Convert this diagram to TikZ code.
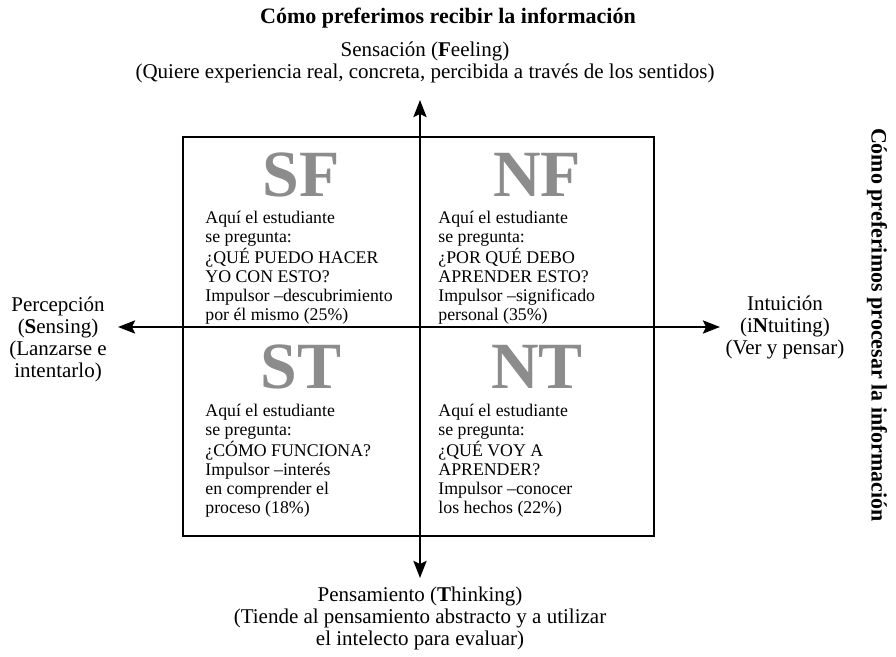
\documentclass[tikz,border=0pt]{standalone}
\usepackage{fontspec}
\setmainfont{Liberation Serif}
\usetikzlibrary{arrows.meta, positioning}
\definecolor{lettergray}{RGB}{140,140,140}

\begin{document}
\begin{tikzpicture}[
    x=0.5pt, y=-0.5pt,
    axis/.style={{Stealth[length=8.5pt,width=6.5pt,inset=1.5pt]}-{Stealth[length=8.5pt,width=6.5pt,inset=1.5pt]}, line width=1.3pt},
    letters/.style={font=\fontsize{33}{33}\selectfont\bfseries, text=lettergray, inner sep=0pt, anchor=base},
    quad/.style={font=\fontsize{8.9}{9.5}\selectfont, align=left, inner sep=0pt, anchor=north west},
    axislabel/.style={font=\fontsize{10.5}{11}\selectfont, align=center, inner sep=0pt},
    heading/.style={font=\fontsize{11}{12}\selectfont\bfseries, inner sep=0pt}
]
    \useasboundingbox (0,0) rectangle (896,657);

    % titles
    \node[heading] (recibir) at (448,18) {Cómo preferimos recibir la información};
    \node[heading, rotate=-90] (procesar) at (877,325) {Cómo preferimos procesar la información};

    % axis labels
    \node[axislabel] (feeling) at (425,62)
        {Sensación (\textbf{F}eeling)\\(Quiere experiencia real, concreta, percibida a través de los sentidos)};
    \node[axislabel] (thinking) at (420,618)
        {Pensamiento (\textbf{T}hinking)\\(Tiende al pensamiento abstracto y a utilizar\\el intelecto para evaluar)};
    \node[axislabel] (sensing) at (58,339)
        {Percepción\\(\textbf{S}ensing)\\(Lanzarse e\\intentarlo)};
    \node[axislabel] (intuiting) at (785,327)
        {Intuición\\(i\textbf{N}tuiting)\\(Ver y pensar)};

    % frame and axes
    \draw[line width=1.3pt] (183,137) rectangle (654,536);
    \coordinate (top) at (420,100);
    \coordinate (bottom) at (420,578);
    \coordinate (left) at (118,327);
    \coordinate (right) at (720,327);
    \draw[axis] (bottom) -- (top);
    \draw[axis] (left) -- (right);

    % quadrants
    \node[letters] (sf) at (301,197) {SF};
    \node[letters] (nf) at (537,197) {NF};
    \node[letters] (st) at (301,389) {ST};
    \node[letters] (nt) at (537,389) {NT};

    \node[quad] (sftext) at (205,211)
        {Aquí el estudiante\\se pregunta:\\¿QUÉ PUEDO HACER\\YO CON ESTO?\\Impulsor --descubrimiento\\por él mismo (25\%)};
    \node[quad] (nftext) at (438,211)
        {Aquí el estudiante\\se pregunta:\\¿POR QUÉ DEBO\\APRENDER ESTO?\\Impulsor --significado\\personal (35\%)};
    \node[quad] (sttext) at (205,404)
        {Aquí el estudiante\\se pregunta:\\¿CÓMO FUNCIONA?\\Impulsor --interés\\en comprender el\\proceso (18\%)};
    \node[quad] (nttext) at (438,404)
        {Aquí el estudiante\\se pregunta:\\¿QUÉ VOY A\\APRENDER?\\Impulsor --conocer\\los hechos (22\%)};
\end{tikzpicture}
\end{document}
